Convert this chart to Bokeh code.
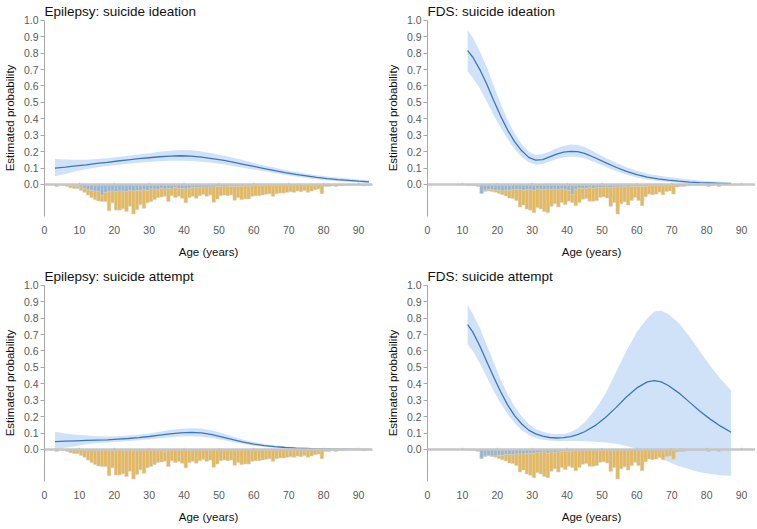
from bokeh.plotting import figure
from bokeh.models import Range1d, FixedTicker, Span, ColumnDataSource, CustomJSTickFormatter
from bokeh.layouts import column, row
from bokeh.embed import file_html
from bokeh.resources import INLINE

# ---------------- data ----------------
titles = ["Epilepsy: suicide ideation", "FDS: suicide ideation",
          "Epilepsy: suicide attempt", "FDS: suicide attempt"]
x_label = "Age (years)"
y_label = "Estimated probability"
x_ticks = [0, 10, 20, 30, 40, 50, 60, 70, 80, 90]
y_ticks = [0.0, 0.1, 0.2, 0.3, 0.4, 0.5, 0.6, 0.7, 0.8, 0.9, 1.0]

# histogram ages (left edge of 1-year bins)
epi_hist_age = list(range(3, 94))
fds_hist_age = list(range(11, 88))

epi_total = [3, 1, 1, 3, 5, 6, 6,
             9, 12, 16, 20, 23, 25, 26, 26, 40, 28,
             39, 39, 37, 41, 33, 45, 38, 31, 36, 28,
             26, 23, 20, 19, 18, 26, 17, 20, 18, 21,
             28, 20, 18, 21, 17, 15, 18, 16, 27, 22,
             17, 16, 17, 16, 24, 20, 23, 22, 22, 18,
             17, 17, 16, 15, 14, 18, 14, 13, 13, 12,
             11, 12, 10, 11, 9, 12, 10, 8, 7, 14,
             3, 3, 2, 3, 2, 2, 1, 1, 1, 1,
             1, 2, 1, 1]
epi_ideation = [0, 0, 0, 1, 1, 2, 3,
                4, 6, 8, 9, 10, 11, 17, 12, 11, 10,
                11, 10, 10, 11, 9, 10, 9, 9, 8, 9,
                7, 7, 8, 6, 7, 6, 7, 5, 6, 6,
                7, 6, 5, 5, 5, 4, 4, 4, 4, 3,
                3, 4, 3, 3, 3, 3, 3, 2, 3, 2,
                2, 2, 2, 1, 1, 1, 1, 1, 0, 1,
                0, 1, 0, 0, 1, 0, 0, 0, 0, 1,
                0, 0, 0, 0, 0, 0, 0, 0, 0, 0,
                0, 0, 0, 0]
epi_attempt = [0, 0, 0, 0, 0, 0, 0,
               0, 0, 1, 0, 1, 1, 1, 0, 1, 1,
               2, 1, 1, 1, 0, 1, 1, 0, 1, 0,
               1, 0, 1, 2, 3, 1, 1, 0, 1, 0,
               1, 2, 1, 0, 1, 0, 0, 1, 0, 0,
               0, 0, 1, 0, 0, 0, 0, 0, 0, 0,
               0, 0, 0, 0, 0, 0, 0, 0, 0, 0,
               0, 0, 0, 0, 0, 0, 0, 0, 0, 0,
               0, 0, 0, 0, 0, 0, 0, 0, 0, 0,
               0, 0, 0, 0]

fds_total = [1, 1, 2, 3, 14, 11, 10, 11, 12,
             14, 16, 18, 21, 22, 25, 35, 32, 38, 40,
             44, 36, 38, 42, 44, 34, 30, 35, 28, 31,
             26, 28, 33, 28, 23, 22, 26, 26, 25, 20,
             19, 21, 34, 28, 46, 30, 27, 32, 25, 20,
             25, 33, 19, 15, 16, 15, 12, 16, 11, 10,
             15, 4, 3, 3, 2, 1, 1, 1, 1, 1,
             3, 1, 1, 3, 1, 1, 1, 0]
fds_ideation = [1, 1, 1, 2, 14, 9, 8, 8, 9,
                9, 10, 9, 9, 8, 8, 8, 9, 8, 8,
                9, 7, 8, 8, 7, 8, 7, 8, 7, 8,
                9, 16, 8, 6, 6, 6, 5, 6, 5, 5,
                5, 4, 5, 4, 4, 4, 3, 4, 3, 3,
                3, 3, 3, 2, 2, 2, 2, 2, 1, 1,
                1, 0, 0, 0, 0, 0, 0, 0, 0, 0,
                0, 0, 0, 0, 0, 0, 0, 0]
fds_attempt = [0, 0, 1, 1, 14, 10, 9, 10, 10,
               9, 9, 8, 8, 8, 7, 7, 7, 6, 6,
               6, 5, 5, 4, 6, 4, 5, 4, 3, 3,
               3, 3, 2, 2, 1, 2, 1, 1, 0, 1,
               0, 0, 1, 0, 0, 0, 0, 0, 0, 0,
               0, 0, 0, 0, 0, 0, 0, 0, 0, 0,
               0, 0, 0, 0, 0, 0, 0, 0, 0, 0,
               0, 0, 0, 0, 0, 0, 0, 0]

# fitted curves (age, estimate, lower, upper)
epi_curve_age = [3, 6, 9, 12, 15, 18, 21, 24, 27, 30, 33, 36, 39, 42, 45, 48,
                 51, 54, 57, 60, 63, 66, 69, 72, 75, 78, 81, 84, 87, 90, 93]
epi_ide_est = [0.100, 0.106, 0.113, 0.120, 0.128, 0.135, 0.143, 0.150, 0.157, 0.163,
               0.169, 0.173, 0.175, 0.173, 0.167, 0.158, 0.148, 0.136, 0.123, 0.110,
               0.097, 0.084, 0.072, 0.061, 0.052, 0.043, 0.036, 0.030, 0.025, 0.020, 0.016]
epi_ide_lo = [0.050, 0.064, 0.080, 0.093, 0.104, 0.112, 0.119, 0.126, 0.132, 0.137,
              0.141, 0.144, 0.145, 0.143, 0.139, 0.132, 0.123, 0.113, 0.102, 0.091,
              0.080, 0.069, 0.058, 0.048, 0.040, 0.032, 0.026, 0.020, 0.016, 0.012, 0.009]
epi_ide_hi = [0.155, 0.152, 0.150, 0.151, 0.155, 0.160, 0.167, 0.175, 0.183, 0.191,
              0.199, 0.206, 0.210, 0.208, 0.201, 0.190, 0.177, 0.163, 0.147, 0.131,
              0.116, 0.102, 0.088, 0.076, 0.066, 0.057, 0.049, 0.042, 0.036, 0.031, 0.026]
epi_att_est = [0.048, 0.051, 0.053, 0.055, 0.057, 0.059, 0.063, 0.067, 0.072, 0.079,
               0.087, 0.095, 0.101, 0.104, 0.101, 0.091, 0.076, 0.060, 0.045, 0.033,
               0.024, 0.017, 0.012, 0.008, 0.006, 0.004, 0.003, 0.002, 0.002, 0.001, 0.001]
epi_att_lo = [-0.005, 0.010, 0.022, 0.032, 0.039, 0.043, 0.047, 0.051, 0.056, 0.062,
              0.068, 0.074, 0.079, 0.081, 0.078, 0.070, 0.058, 0.045, 0.033, 0.024,
              0.016, 0.011, 0.007, 0.004, 0.003, 0.002, 0.001, 0.001, 0.000, 0.000, 0.000]
epi_att_hi = [0.108, 0.098, 0.090, 0.085, 0.080, 0.079, 0.081, 0.085, 0.090, 0.098,
              0.108, 0.118, 0.126, 0.130, 0.128, 0.116, 0.099, 0.079, 0.060, 0.045,
              0.034, 0.025, 0.018, 0.013, 0.010, 0.007, 0.005, 0.004, 0.003, 0.003, 0.002]

fds_ide_age = [11.5, 13, 15, 17, 19, 21, 23, 25, 27, 29, 31, 33, 35, 37, 39, 41, 43, 45,
               48, 51, 54, 57, 60, 63, 66, 69, 72, 75, 78, 81, 84, 87]
fds_ide_est = [0.815, 0.775, 0.700, 0.610, 0.510, 0.415, 0.330, 0.260, 0.205, 0.165,
               0.148, 0.152, 0.168, 0.185, 0.197, 0.202, 0.200, 0.190, 0.163, 0.133,
               0.105, 0.080, 0.060, 0.045, 0.034, 0.026, 0.020, 0.015, 0.011, 0.009,
               0.007, 0.005]
fds_ide_lo = [0.690, 0.650, 0.585, 0.505, 0.420, 0.345, 0.275, 0.215, 0.168, 0.135,
              0.120, 0.125, 0.140, 0.155, 0.165, 0.170, 0.168, 0.160, 0.135, 0.108,
              0.082, 0.060, 0.042, 0.030, 0.021, 0.015, 0.010, 0.007, 0.005, 0.003,
              0.002, 0.001]
fds_ide_hi = [0.940, 0.895, 0.810, 0.715, 0.600, 0.490, 0.390, 0.310, 0.245, 0.200,
              0.180, 0.185, 0.200, 0.220, 0.235, 0.243, 0.240, 0.228, 0.197, 0.163,
              0.132, 0.105, 0.083, 0.066, 0.054, 0.045, 0.038, 0.031, 0.025, 0.020,
              0.016, 0.013]

fds_att_age = [11.5, 13, 15, 17, 19, 21, 23, 25, 27, 29, 31, 33, 35, 37, 39, 41, 43, 45,
               48, 51, 54, 57, 60, 63, 65, 67, 69, 72, 75, 78, 81, 84, 87]
fds_att_est = [0.760, 0.715, 0.630, 0.535, 0.440, 0.350, 0.270, 0.205, 0.155, 0.118,
               0.095, 0.081, 0.073, 0.070, 0.072, 0.078, 0.090, 0.108, 0.145, 0.195,
               0.255, 0.320, 0.375, 0.412, 0.420, 0.412, 0.390, 0.345, 0.290, 0.235,
               0.185, 0.142, 0.105]
fds_att_lo = [0.640, 0.600, 0.525, 0.440, 0.355, 0.280, 0.215, 0.160, 0.118, 0.088,
              0.070, 0.060, 0.055, 0.052, 0.052, 0.052, 0.052, 0.050, 0.047, 0.042,
              0.035, 0.022, 0.005, -0.020, -0.035, -0.055, -0.075, -0.100, -0.120,
              -0.138, -0.150, -0.157, -0.160]
fds_att_hi = [0.880, 0.825, 0.740, 0.635, 0.530, 0.425, 0.335, 0.260, 0.200, 0.155,
              0.125, 0.108, 0.097, 0.093, 0.095, 0.105, 0.128, 0.165, 0.240, 0.340,
              0.470, 0.600, 0.715, 0.800, 0.840, 0.845, 0.825, 0.770, 0.690, 0.600,
              0.510, 0.430, 0.360]

# ---------------- style ----------------
FONT = "Liberation Sans"
BAND = "#cfe2f7"
LINE = "#3c76c2"
BLUE_BAR = "#93b6d6"
ORANGE_BAR = "#e6b85a"
BAR_EDGE = "#d0d0d0"
HIST_DEPTH = 0.18


def panel(title, c_age, est, lo, hi, h_age, total, pos, left):
    p = figure(frame_width=328, frame_height=197, output_backend="svg",
               toolbar_location=None,
               x_range=Range1d(0, 94), y_range=Range1d(-0.195, 1.005),
               min_border_left=36 if left else 46,
               min_border_right=9 if left else 0,
               min_border_top=0, min_border_bottom=0)
    p.title.text = title
    p.title.align = "left"
    p.title.offset = 0
    p.title.standoff = 2
    p.title.text_font = FONT
    p.title.text_font_size = "13.5px"
    p.title.text_font_style = "normal"
    p.title.text_color = "#111111"
    p.outline_line_color = None
    p.xgrid.visible = False
    p.ygrid.visible = False

    # confidence band and histogram
    p.varea(x=c_age, y1=lo, y2=hi, fill_color=BAND, fill_alpha=1.0)
    k = HIST_DEPTH / max(total)
    centers = [a + 0.5 for a in h_age]
    blue_bot = [-b * k for b in pos]
    tot_bot = [-t * k for t in total]
    src = ColumnDataSource(dict(x=centers, bb=blue_bot, tb=tot_bot))
    p.vbar(x="x", width=1, top=0, bottom="bb", source=src,
           fill_color=BLUE_BAR, line_color=BAR_EDGE, line_width=0.5)
    p.vbar(x="x", width=1, top="bb", bottom="tb", source=src,
           fill_color=ORANGE_BAR, line_color=BAR_EDGE, line_width=0.5)
    p.line(c_age, est, line_color=LINE, line_width=1.3)

    p.add_layout(Span(location=0, dimension="width", line_color="#c6c6c6", line_width=2.5))
    p.segment(x0=x_ticks[1:], y0=[-0.004] * 9, x1=x_ticks[1:], y1=[0.010] * 9,
              line_color="#9a9a9a", line_width=1)

    # axes
    p.xaxis.ticker = FixedTicker(ticks=x_ticks)
    p.yaxis.ticker = FixedTicker(ticks=y_ticks)
    p.yaxis.bounds = (-0.195, 1.0)
    p.xaxis.axis_line_color = None
    p.xaxis.major_tick_line_color = None
    p.xaxis.minor_tick_line_color = None
    p.xaxis.major_label_standoff = 3
    p.yaxis.axis_line_color = "#a8a8a8"
    p.yaxis.major_tick_line_color = "#a8a8a8"
    p.yaxis.major_tick_out = 4
    p.yaxis.major_tick_in = 0
    p.yaxis.minor_tick_line_color = None
    p.yaxis.major_label_standoff = 2
    p.yaxis.formatter = CustomJSTickFormatter(code="return tick.toFixed(1);")
    for ax in (p.xaxis, p.yaxis):
        ax.major_label_text_font = FONT
        ax.major_label_text_font_size = "10.5px"
        ax.major_label_text_color = "#5a5a5a"
        ax.axis_label_text_font = FONT
        ax.axis_label_text_font_size = "11.5px"
        ax.axis_label_text_font_style = "normal"
        ax.axis_label_text_color = "#111111"
    p.xaxis.axis_label = x_label
    p.yaxis.axis_label = y_label
    p.xaxis.axis_label_standoff = 9
    p.yaxis.axis_label_standoff = 5
    return p


p1 = panel(titles[0], epi_curve_age, epi_ide_est, epi_ide_lo, epi_ide_hi,
           epi_hist_age, epi_total, epi_ideation, True)
p2 = panel(titles[1], fds_ide_age, fds_ide_est, fds_ide_lo, fds_ide_hi,
           fds_hist_age, fds_total, fds_ideation, False)
p3 = panel(titles[2], epi_curve_age, epi_att_est, epi_att_lo, epi_att_hi,
           epi_hist_age, epi_total, epi_attempt, True)
p4 = panel(titles[3], fds_att_age, fds_att_est, fds_att_lo, fds_att_hi,
           fds_hist_age, fds_total, fds_attempt, False)

layout = column(row(p1, p2), row(p3, p4), spacing=5)
open("out.html", "w").write(file_html(layout, INLINE))
